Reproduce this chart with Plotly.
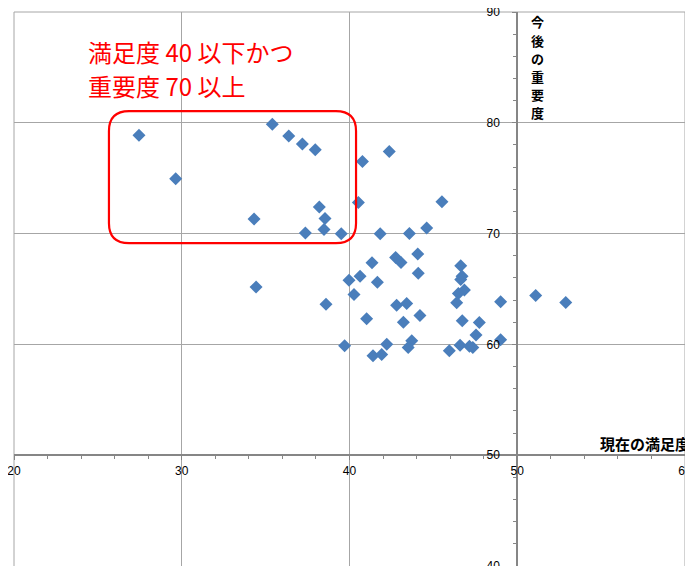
import plotly.graph_objects as go

satisfaction = [27.45, 29.64, 35.4, 36.38, 37.19, 37.96, 40.77, 42.37, 34.31, 38.2,
                38.54, 40.53, 37.37, 38.48, 39.51, 41.83, 43.57, 44.6, 45.51, 44.07,
                42.75, 43.07, 41.34, 44.1, 40.63, 39.97, 41.66, 40.27, 42.81, 43.41,
                41.02, 43.21, 44.2, 39.71, 42.22, 43.71, 43.5, 41.4, 41.92, 46.63,
                46.71, 46.63, 46.85, 46.49, 46.39, 46.72, 47.74, 47.54, 49.01, 49.01,
                46.59, 47.15, 47.35, 45.95, 51.1, 52.89, 34.43, 38.6]
importance = [78.87, 74.95, 79.86, 78.8, 78.08, 77.57, 76.5, 77.4, 71.31, 72.39,
              71.37, 72.8, 70.05, 70.38, 69.99, 69.98, 70.02, 70.5, 72.87, 68.15,
              67.85, 67.4, 67.37, 66.43, 66.16, 65.78, 65.6, 64.51, 63.54, 63.7,
              62.31, 62.0, 62.61, 59.87, 60.02, 60.32, 59.72, 58.97, 59.09, 67.1,
              66.16, 65.86, 64.9, 64.6, 63.75, 62.13, 61.98, 60.84, 63.84, 60.43,
              59.93, 59.84, 59.72, 59.42, 64.42, 63.79, 65.17, 63.63]

x_title = "現在の満足度"
y_title = "今後の重要度"
note_lines = ["満足度 40 以下かつ", "重要度 70 以上"]

fig = go.Figure()
fig.add_trace(go.Scatter(
    x=satisfaction, y=importance, mode="markers",
    marker=dict(symbol="diamond", size=10, color="#4A7EBB", line=dict(width=0)),
    hoverinfo="x+y", showlegend=False,
))

grid = "#A6A6A6"
axis_c = "#868686"

fig.update_layout(
    width=693, height=566,
    margin=dict(l=6, r=16, t=4, b=8, autoexpand=False),
    paper_bgcolor="white", plot_bgcolor="white",
    font=dict(family="Liberation Sans, Noto Sans CJK JP, sans-serif", size=12, color="#000000"),
    xaxis=dict(
        range=[20, 60], dtick=10, tick0=20, showgrid=True, gridcolor=grid, gridwidth=1,
        zeroline=False, showline=True, linecolor=axis_c, linewidth=2,
        anchor="free", position=0.2, automargin=False, ticklabeloverflow="allow",
        ticks="outside", ticklen=4, tickcolor=axis_c, tickwidth=1,
        minor=dict(dtick=2, ticks="outside", ticklen=3, tickcolor=axis_c, showgrid=False),
        tickfont=dict(size=12, color="#000000"),
    ),
    yaxis=dict(
        range=[40, 90], dtick=10, tick0=40, showgrid=True, gridcolor=grid, gridwidth=1,
        zeroline=False, showline=True, linecolor=axis_c, linewidth=2,
        anchor="free", position=0.75, automargin=False, ticklabeloverflow="allow",
        ticks="outside", ticklen=4, tickcolor=axis_c, tickwidth=1, ticklabelstandoff=10,
        minor=dict(dtick=2, ticks="outside", ticklen=3, tickcolor=axis_c, showgrid=False),
        tickfont=dict(size=12, color="#000000"),
    ),
)

# outer gridlines at the range ends (plotly clips grid lines on the plot edges)
for xv in (0, 1):
    fig.add_shape(type="line", xref="paper", yref="paper", x0=xv, x1=xv, y0=0, y1=1,
                  line=dict(color=grid, width=1), layer="below")
fig.add_shape(type="line", xref="paper", yref="paper", x0=0, x1=1, y0=1, y1=1,
              line=dict(color=grid, width=1), layer="below")

# axis titles
fig.add_annotation(x=54.8, y=51.1, xref="x", yref="y", text=f"<b>{x_title}</b>",
                   showarrow=False, xanchor="left", yanchor="middle",
                   font=dict(family="Noto Sans CJK JP", size=15, color="#000000"))
for i, ch in enumerate(y_title):
    fig.add_annotation(x=51.2, y=89.1 - i * 1.63, xref="x", yref="y",
                       text=f"<b>{ch}</b>", showarrow=False,
                       xanchor="center", yanchor="middle",
                       font=dict(family="Noto Sans CJK JP", size=13, color="#000000"))

# red note
fig.add_annotation(x=24.3, y=86.4, xref="x", yref="y", text=note_lines[0],
                   showarrow=False, xanchor="left", yanchor="middle",
                   font=dict(family="Noto Sans CJK JP", size=24, color="#FF0000"))
fig.add_annotation(x=24.3, y=83.4, xref="x", yref="y", text=note_lines[1],
                   showarrow=False, xanchor="left", yanchor="middle",
                   font=dict(family="Noto Sans CJK JP", size=24, color="#FF0000"))

# red rounded rectangle
x0, x1, y0, y1 = 25.66, 40.39, 69.14, 81.06
rx, ry = 1.2, 1.8
path = (f"M {x0+rx},{y1} L {x1-rx},{y1} Q {x1},{y1} {x1},{y1-ry} "
        f"L {x1},{y0+ry} Q {x1},{y0} {x1-rx},{y0} "
        f"L {x0+rx},{y0} Q {x0},{y0} {x0},{y0+ry} "
        f"L {x0},{y1-ry} Q {x0},{y1} {x0+rx},{y1} Z")
fig.add_shape(type="path", path=path, xref="x", yref="y",
              line=dict(color="#FF0000", width=2.2), fillcolor="rgba(0,0,0,0)")

fig.write_html("out.html")
